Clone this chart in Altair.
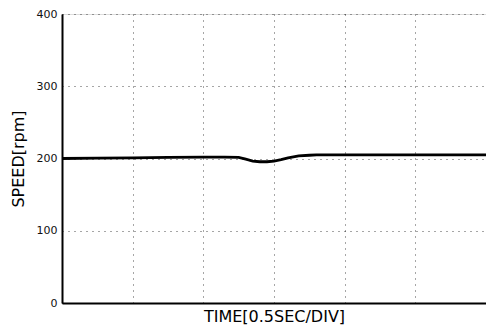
import altair as alt
import pandas as pd

# time in divisions (0.5 s/div), speed in rpm
t = [0.0, 0.5, 1.0, 1.5, 2.0, 2.3, 2.5, 2.6, 2.7, 2.8, 2.9, 3.0, 3.1, 3.2, 3.35, 3.5, 3.6, 4.0, 4.5, 5.0, 5.5, 6.0]
speed = [200, 200.5, 201, 201.5, 202, 202, 201.5, 199, 196.5, 195.5, 195.5, 196.5, 198.5, 201, 203.5, 204.5, 205, 205, 205, 205, 205, 205]
y_ticks = [0, 100, 200, 300, 400]
x_ticks = [0, 1, 2, 3, 4, 5, 6]

df = pd.DataFrame({"t": t, "speed": speed})

chart = alt.Chart(df).mark_line(color="black", strokeWidth=2.8).encode(
    x=alt.X("t:Q", scale=alt.Scale(domain=[0, 6], nice=False),
            axis=alt.Axis(title="TIME[0.5SEC/DIV]", values=x_ticks, labels=False,
                          grid=True, gridColor="black", gridDash=[1, 5], gridOpacity=0.7,
                          domainColor="black", domainWidth=2, ticks=False,
                          titleFont="DejaVu Sans", titleFontSize=16, titleFontWeight="normal",
                          titleColor="black", titlePadding=5)),
    y=alt.Y("speed:Q", scale=alt.Scale(domain=[0, 400], nice=False),
            axis=alt.Axis(title="SPEED[rpm]", values=y_ticks, format="d",
                          grid=True, gridColor="black", gridDash=[1, 5], gridOpacity=0.7,
                          domainColor="black", domainWidth=2, ticks=False,
                          labelFont="DejaVu Sans", labelFontSize=11, labelColor="#111",
                          labelPadding=5,
                          titleFont="DejaVu Sans", titleFontSize=16, titleFontWeight="normal",
                          titleColor="black", titlePadding=10)),
).properties(
    width=424, height=289,
    autosize=alt.AutoSizeParams(type="none"),
    padding={"left": 62, "top": 14, "right": 0, "bottom": 27},
).configure_view(stroke="black", strokeWidth=1.5).configure(background="white")

chart.save("out.html", embed_options={"renderer": "svg", "actions": False})
